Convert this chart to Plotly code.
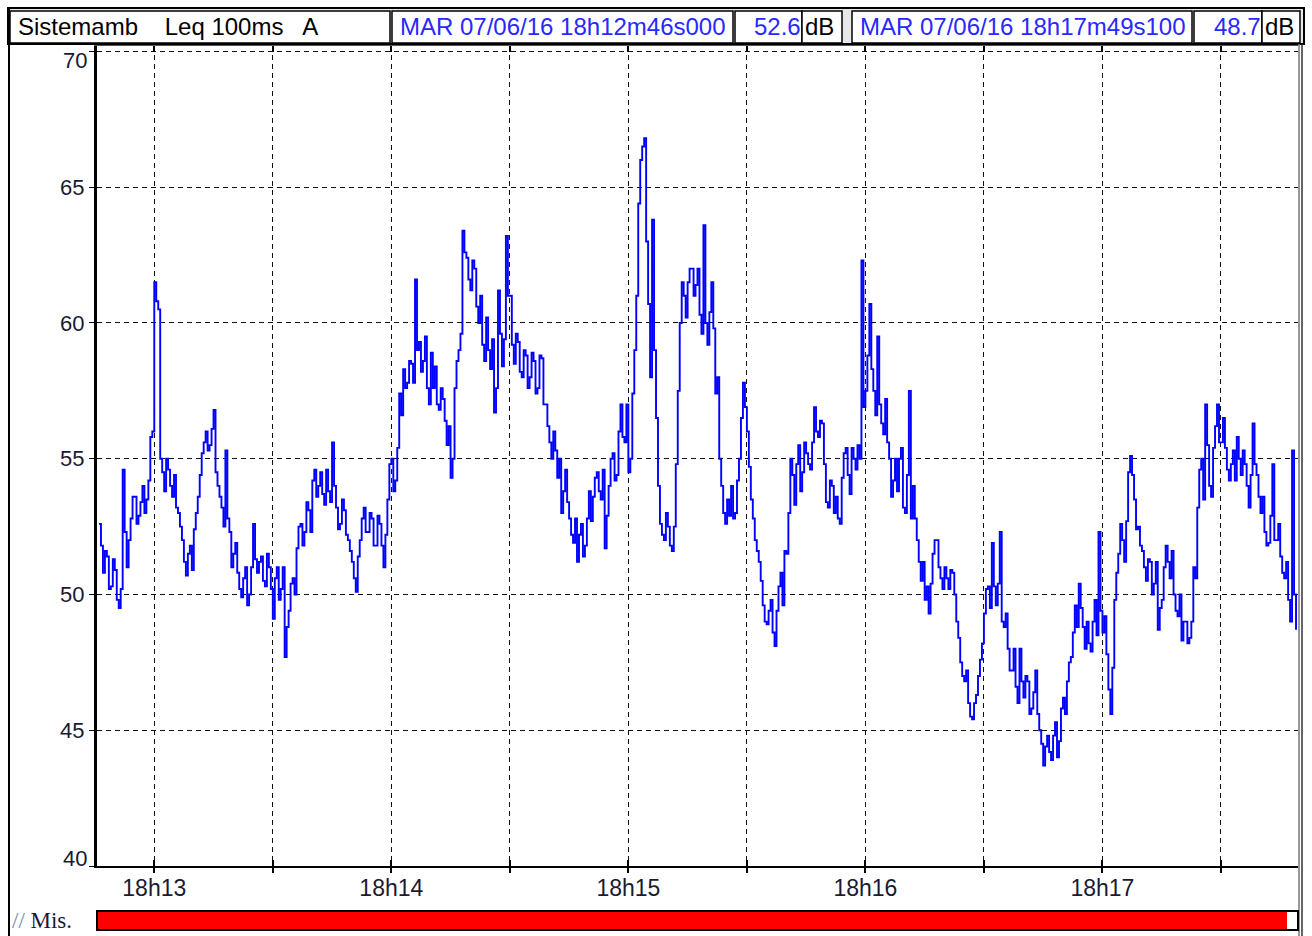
import numpy as np
import pandas as pd
import plotly.graph_objects as go

# Leq 100 ms, A-weighted, from 18h12m46s000
start = pd.Timestamp("2016-06-07 18:12:46")

# readings on each whole second
leq_whole_s = [
    52.6, 50.8, 51.4, 50.3, 50.9, 49.5, 54.6, 51.0, 52.8, 53.6,
    52.9, 54.0, 53.5, 55.8, 61.5, 60.5, 54.5, 55.0, 54.0, 54.4,
    53.0, 52.0, 50.7, 51.8, 52.4, 53.6, 55.2, 56.0, 55.5, 56.8,
    54.0, 53.2, 55.3, 52.3, 51.5, 50.8, 49.9, 51.0, 50.0, 52.6,
    50.8, 51.4, 50.3, 51.0, 49.1, 51.0, 50.2, 47.7, 49.4, 50.6,
    51.7, 52.6, 52.3, 53.1, 54.2, 53.6, 54.5, 53.3, 53.8, 55.6,
    53.2, 52.6, 53.1, 52.0, 51.2, 50.1, 52.0, 53.2, 52.3, 52.8,
    51.8, 52.6, 51.0, 53.5, 55.0, 54.2, 57.4, 58.3, 57.8, 58.5,
    61.6, 59.3, 58.6, 57.6, 58.9, 58.4, 56.8, 57.2, 55.5, 54.3,
    57.6, 59.0, 63.4, 62.4, 61.2, 62.0, 60.0, 59.2, 60.2, 58.3,
    56.7, 61.2, 58.4, 63.2, 61.0, 58.5, 59.3, 58.0, 58.8, 58.0,
    58.6, 57.6, 58.7, 57.0, 55.6, 56.0, 54.3, 53.0, 54.6, 52.8,
    51.9, 51.2, 52.6, 51.8, 53.8, 53.6, 54.5, 53.5, 51.7, 54.0,
    55.2, 54.4, 57.0, 55.6, 54.5, 57.4, 61.0, 66.0, 66.8, 60.7,
    63.8, 56.5, 52.6, 52.0, 52.5, 51.6, 54.8, 60.0, 61.0, 61.5,
    62.0, 61.4, 60.3, 63.6, 59.2, 61.5, 57.4, 55.0, 53.0, 53.5,
    54.0, 53.0, 55.0, 57.8, 56.0, 53.5, 52.0, 51.2, 49.6, 48.9,
    49.8, 48.1, 50.3, 49.6, 51.5, 55.0, 53.3, 55.5, 54.5, 55.2,
    54.6, 56.9, 55.8, 56.3, 53.4, 54.2, 53.0, 52.8, 54.3, 55.4,
    53.7, 55.0, 55.5, 62.3, 57.5, 60.7, 57.5, 59.5, 56.3, 57.2,
    55.0, 54.2, 53.8, 55.4, 53.0, 57.5, 54.0, 52.0, 50.5, 49.8,
    49.3, 51.5, 52.0, 50.6, 51.0, 50.2, 50.8, 49.0, 47.5, 46.8,
    46.0, 45.4, 46.3, 47.6, 49.3, 50.3, 51.9, 49.6, 52.3, 48.8,
    48.0, 47.2, 46.6, 48.0, 46.2, 46.8, 45.8, 47.2, 45.0, 43.7,
    44.8, 43.9, 45.3, 44.6, 46.2, 46.8, 47.7, 49.6, 50.4, 48.8,
    49.0, 47.9, 49.8, 52.3, 48.6, 47.8, 45.6, 49.8, 51.5, 52.0,
    52.7, 55.1, 53.5, 52.5, 51.6, 50.5, 51.2, 50.4, 48.7, 49.8,
    51.8, 50.6, 50.0, 49.2, 48.3, 49.0, 48.4, 51.0, 53.2, 55.0,
    57.0, 54.0, 55.4, 57.0, 55.6, 55.4, 54.2, 55.3, 55.8, 54.4,
    54.8, 53.2, 56.3, 54.4, 53.0, 52.3, 51.9, 54.8, 52.0, 51.4,
    50.6, 49.8, 55.3, 48.7,
]
# readings half a second after each of the above
leq_half_s = [
    51.8, 51.6, 50.2, 51.3, 49.8, 50.2, 52.3, 52.0, 53.6, 52.6,
    53.4, 53.0, 54.2, 56.0, 60.8, 55.0, 53.8, 54.6, 53.6, 53.2,
    52.5, 51.2, 51.5, 50.9, 53.0, 54.4, 55.6, 55.3, 56.1, 54.5,
    53.6, 52.5, 52.8, 51.0, 51.9, 50.2, 50.6, 49.6, 51.0, 51.3,
    51.2, 50.5, 51.5, 50.2, 50.6, 49.8, 51.0, 48.8, 50.4, 50.0,
    52.5, 51.8, 53.4, 52.3, 54.6, 54.0, 53.7, 54.6, 53.4, 54.0,
    52.4, 53.5, 52.2, 51.6, 50.6, 51.4, 52.8, 52.3, 53.0, 51.8,
    52.9, 51.8, 52.2, 54.8, 53.8, 55.4, 56.6, 57.6, 58.6, 57.8,
    59.0, 58.2, 59.5, 57.0, 57.6, 57.0, 57.6, 56.4, 56.2, 55.0,
    58.6, 59.6, 62.6, 61.6, 62.3, 60.6, 61.0, 58.6, 59.0, 59.4,
    57.6, 59.6, 59.4, 61.0, 59.2, 59.6, 58.2, 59.0, 57.6, 58.9,
    57.4, 58.8, 57.0, 56.2, 55.0, 55.3, 55.0, 53.8, 53.4, 52.2,
    52.8, 52.2, 51.4, 52.8, 52.7, 54.3, 53.8, 54.6, 52.9, 55.0,
    54.2, 56.0, 55.8, 57.0, 55.0, 59.0, 64.4, 66.5, 63.0, 58.0,
    59.0, 54.0, 52.2, 53.0, 51.8, 52.5, 57.5, 61.5, 60.2, 62.0,
    61.0, 62.0, 59.6, 60.0, 60.4, 59.8, 58.0, 54.0, 52.6, 52.9,
    52.8, 54.2, 56.5, 56.9, 54.7, 52.8, 51.6, 50.5, 49.0, 49.4,
    48.6, 49.4, 50.8, 51.6, 53.0, 54.4, 54.8, 53.8, 55.6, 54.8,
    55.6, 56.0, 56.4, 54.8, 53.2, 54.0, 53.6, 52.6, 55.2, 54.4,
    55.4, 54.6, 55.0, 56.9, 58.8, 58.3, 56.6, 57.0, 55.9, 55.6,
    53.6, 55.0, 55.0, 53.2, 54.4, 52.8, 52.8, 51.2, 51.2, 50.3,
    50.4, 52.0, 51.0, 50.2, 50.6, 50.9, 50.0, 48.4, 47.0, 47.2,
    45.5, 46.0, 47.0, 48.2, 50.2, 49.5, 50.3, 50.4, 49.0, 49.3,
    47.2, 48.0, 46.0, 46.8, 47.0, 45.6, 46.4, 45.6, 44.5, 44.4,
    44.2, 44.8, 44.0, 45.8, 45.6, 47.5, 48.6, 48.8, 49.5, 48.0,
    48.2, 49.0, 48.5, 49.4, 49.2, 46.5, 47.3, 50.8, 52.6, 51.2,
    54.5, 54.4, 52.4, 51.8, 51.0, 51.3, 50.0, 51.2, 49.5, 51.0,
    51.2, 51.6, 49.4, 50.0, 49.0, 48.2, 49.0, 50.6, 54.6, 53.5,
    55.5, 53.6, 56.2, 55.6, 56.5, 54.6, 54.8, 54.2, 55.0, 55.3,
    54.0, 54.4, 54.8, 53.6, 53.6, 51.8, 52.9, 52.0, 52.6, 50.8,
    51.2, 49.0, 50.0,
]

tick_times = ["18:13:00", "18:13:30", "18:14:00", "18:14:30", "18:15:00",
              "18:15:30", "18:16:00", "18:16:30", "18:17:00", "18:17:30"]
tick_labels = ["18h13", "", "18h14", "", "18h15", "", "18h16", "", "18h17", ""]
y_ticks = [40, 45, 50, 55, 60, 65, 70]

header_left = "Sistemamb    Leq 100ms   A"
first_stamp, first_value = "MAR 07/06/16 18h12m46s000", "52.6"
last_stamp, last_value = "MAR 07/06/16 18h17m49s100", "48.7"
unit = "dB"
mis_label = "Mis."

# interleave the two series onto a half-second clock
leq_db = []
for i, v in enumerate(leq_whole_s):
    leq_db.append(v)
    if i < len(leq_half_s):
        leq_db.append(leq_half_s[i])
times = start + pd.to_timedelta(np.arange(len(leq_db)) * 500, unit="ms")

W, H = 1312, 936
L, R, T, B = 97, 1298, 46, 866
FONT = "Liberation Sans, Arial, sans-serif"
BLUE_TXT = "#2828ff"
TXT = "#1a1a33"
FS = 24


def px(x):
    return (x - L) / (R - L)


def py(y):
    return (B - y) / (B - T)


tick_vals = [pd.Timestamp("2016-06-07 " + t) for t in tick_times]
x_range = [start - pd.Timedelta(milliseconds=500), start + pd.Timedelta(seconds=303.5)]

# inner labels kept on the axis; the end values are nudged inside the frame
y_text = [str(v) if v not in (y_ticks[0], y_ticks[-1]) else "" for v in y_ticks]

fig = go.Figure()
fig.add_trace(go.Scatter(
    x=times, y=leq_db, mode="lines",
    line=dict(color="#0000ff", width=1.9, shape="hv"),
    hoverinfo="skip", showlegend=False,
))
# invisible traces that bring the extra tick axes into existence
for ax in ("x2", "x3"):
    fig.add_trace(go.Scatter(x=[times[0]], y=[leq_db[0]], xaxis=ax,
                             mode="markers", marker=dict(opacity=0),
                             showlegend=False, hoverinfo="skip"))

fig.update_layout(
    width=W, height=H,
    margin=dict(l=L, r=W - R, t=T, b=H - B, pad=0),
    paper_bgcolor="white", plot_bgcolor="white",
    font=dict(family=FONT, size=FS, color=TXT),
    xaxis=dict(
        type="date", range=x_range,
        tickvals=tick_vals, ticktext=tick_labels,
        showgrid=True, gridcolor="#111", griddash="5px,4px", gridwidth=1.3,
        showline=True, linecolor="black", linewidth=2,
        ticks="inside", ticklen=6, tickcolor="black", tickwidth=2,
        tickfont=dict(size=FS - 1, family=FONT, color=TXT),
        zeroline=False,
    ),
    xaxis2=dict(
        type="date", range=x_range, overlaying="x", side="top",
        tickvals=tick_vals, ticktext=[""] * len(tick_vals),
        ticks="inside", ticklen=6, tickcolor="black", tickwidth=2,
        showline=True, linecolor="#555", linewidth=1, showgrid=False,
    ),
    xaxis3=dict(
        type="date", range=x_range, overlaying="x", side="bottom",
        tickvals=tick_vals, showticklabels=False,
        ticks="outside", ticklen=6, tickcolor="black", tickwidth=2,
        showline=False, showgrid=False, zeroline=False,
    ),
    yaxis=dict(
        range=[40, 70.2], tickvals=y_ticks, ticktext=y_text,
        showgrid=True, gridcolor="#111", griddash="5px,4px", gridwidth=1.3,
        showline=True, linecolor="black", linewidth=3,
        ticks="outside", ticklen=5, tickcolor="black", tickwidth=1,
        tickfont=dict(size=FS - 2, family=FONT, color=TXT),
        zeroline=False, mirror=False,
    ),
)

shapes = []
annots = []

# end labels of the level axis, kept inside the frame
for v, ypix in [(y_ticks[-1], 60), (y_ticks[0], 858)]:
    annots.append(dict(x=px(89), y=py(ypix), xref="paper", yref="paper",
                       text=str(v), showarrow=False, xanchor="right", yanchor="middle",
                       font=dict(family=FONT, size=FS - 2, color=TXT)))

# header strip
shapes.append(dict(type="rect", xref="paper", yref="paper",
                   x0=px(8), x1=px(1304), y0=py(44), y1=py(8),
                   line=dict(color="black", width=2), fillcolor="#e8e8e8", layer="below"))
boxes = [
    (10, 390, header_left, "left", "black", 6),
    (392, 733, first_stamp, "left", BLUE_TXT, 6),
    (735, 802, first_value, "right", BLUE_TXT, 1),
    (802, 842, unit, "left", "black", 1),
    (852, 1192, last_stamp, "left", BLUE_TXT, 6),
    (1194, 1262, last_value, "right", BLUE_TXT, 1),
    (1262, 1300, unit, "left", "black", 1),
]
for x0, x1, txt, align, col, pad in boxes:
    shapes.append(dict(type="rect", xref="paper", yref="paper",
                       x0=px(x0), x1=px(x1), y0=py(43), y1=py(11),
                       line=dict(color="black", width=1.5), fillcolor="white"))
    if align == "left":
        xa, anchor = x0 + pad, "left"
    else:
        xa, anchor = x1 + pad, "right"
    annots.append(dict(x=px(xa), y=py(27), xref="paper", yref="paper",
                       text=txt, showarrow=False, xanchor=anchor, yanchor="middle",
                       font=dict(family=FONT, size=FS, color=col)))

# right edge of plot: double grey rule
for xx, cc in [(1299, "#777"), (1302, "#333")]:
    shapes.append(dict(type="line", xref="paper", yref="paper",
                       x0=px(xx), x1=px(xx), y0=py(44), y1=py(936),
                       line=dict(color=cc, width=1.5)))
# left outer frame
shapes.append(dict(type="line", xref="paper", yref="paper",
                   x0=px(9), x1=px(9), y0=py(8), y1=py(936),
                   line=dict(color="black", width=2)))

# measurement strip at the bottom
shapes.append(dict(type="rect", xref="paper", yref="paper",
                   x0=px(97), x1=px(1298), y0=py(930), y1=py(911),
                   line=dict(color="black", width=2), fillcolor="white"))
shapes.append(dict(type="rect", xref="paper", yref="paper",
                   x0=px(98), x1=px(1287), y0=py(929), y1=py(912),
                   line=dict(width=0), fillcolor="#ff0000"))
annots.append(dict(x=px(10), y=py(920), xref="paper", yref="paper",
                   text="<span style='color:#7a8aa8'>//</span> " + mis_label,
                   showarrow=False, xanchor="left", yanchor="middle",
                   font=dict(family="Liberation Serif, Times New Roman, serif",
                             size=23, color=TXT)))

fig.update_layout(shapes=shapes, annotations=annots)
fig.write_html("out.html")
